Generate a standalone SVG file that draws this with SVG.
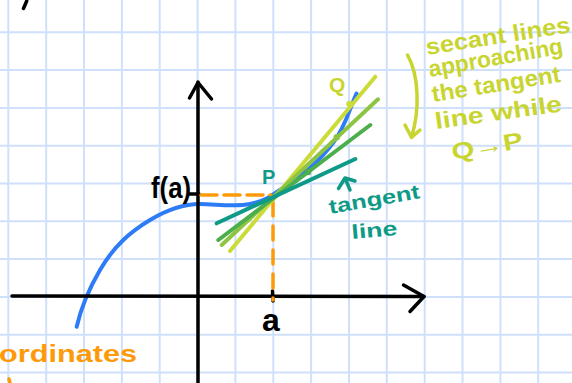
<svg xmlns="http://www.w3.org/2000/svg" width="572" height="383" viewBox="0 0 572 383">
<defs>
<style>
.grid line{stroke:#cfe0fb;stroke-width:2}
.ink{fill:none;stroke-linecap:round;stroke-linejoin:round}
.hand{font-family:"Liberation Sans","DejaVu Sans",sans-serif;font-weight:bold}
</style>
</defs>
<rect width="572" height="383" fill="#ffffff"/>
<g id="grid" class="grid">
<line x1="8.3" y1="0" x2="8.3" y2="383"/><line x1="46.2" y1="0" x2="46.2" y2="383"/><line x1="84" y1="0" x2="84" y2="383"/><line x1="121.9" y1="0" x2="121.9" y2="383"/><line x1="159.7" y1="0" x2="159.7" y2="383"/><line x1="197.6" y1="0" x2="197.6" y2="383"/><line x1="235.4" y1="0" x2="235.4" y2="383"/><line x1="273.3" y1="0" x2="273.3" y2="383"/><line x1="311.1" y1="0" x2="311.1" y2="383"/><line x1="349" y1="0" x2="349" y2="383"/><line x1="386.8" y1="0" x2="386.8" y2="383"/><line x1="424.7" y1="0" x2="424.7" y2="383"/><line x1="462.5" y1="0" x2="462.5" y2="383"/><line x1="500.4" y1="0" x2="500.4" y2="383"/><line x1="538.2" y1="0" x2="538.2" y2="383"/>
<line x1="0" y1="32.3" x2="572" y2="32.3"/><line x1="0" y1="70.1" x2="572" y2="70.1"/><line x1="0" y1="107.9" x2="572" y2="107.9"/><line x1="0" y1="145.7" x2="572" y2="145.7"/><line x1="0" y1="183.5" x2="572" y2="183.5"/><line x1="0" y1="221.3" x2="572" y2="221.3"/><line x1="0" y1="259.1" x2="572" y2="259.1"/><line x1="0" y1="296.9" x2="572" y2="296.9"/><line x1="0" y1="334.7" x2="572" y2="334.7"/><line x1="0" y1="372.5" x2="572" y2="372.5"/>
</g>
<g id="curve">
<path class="ink" stroke="#2d7cf6" stroke-width="4" d="M76.7,326.7 C80,312 86,294 100,270 S130,232 150,220 S185,204 200,204 S235,207 250,204 S270,197 290,183 S320,160 333,143 S350,107 356.5,93.5"/>
</g>
<g id="axes" class="ink" stroke="#000" stroke-width="3.5">
<path d="M198,82 L198,383"/>
<path d="M189.5,98 L198,82.5 L211.5,99"/>
<path d="M12,296 L424,296.5"/>
<path d="M403.5,285 L424,296.5 L410,311.5"/>
<path d="M272.5,291 L273,301"/>
<path d="M189,194 L199,194"/>
<path d="M26.7,1 L23.5,8.5"/>
</g>
<g id="guides" class="ink" stroke="#fd9a0a" stroke-width="3.5" stroke-linecap="butt">
<path d="M201,195 L271,195" stroke-dasharray="16 7"/>
<path d="M273,202 L273,300" stroke-dasharray="14 10"/>
</g>
<g id="connectors" class="ink" stroke-width="4">
<path stroke="#cbdb3a" d="M230,251 L375.3,76.7"/>
<path stroke="#8dc442" d="M221.7,245 L378,99.3"/>
<path stroke="#4dae4c" d="M218.3,240 L370.3,125"/>
<path stroke="#0f9a88" d="M216.7,223.3 L355.3,159"/>
<circle cx="349.5" cy="104" r="3.2" fill="#cbdb3a" stroke="none"/>
<circle cx="336.7" cy="137.3" r="3.2" fill="#8dc442" stroke="none"/>
<circle cx="308" cy="172" r="3.2" fill="#4dae4c" stroke="none"/>
<path stroke="#0f9a88" stroke-width="3.5" d="M338.5,188.5 L345,178 L355,181 M345,178 L350,190"/>
<path stroke="#c8d530" stroke-width="3.5" d="M407.5,55 C419,75 420,110 411.5,137 M405,125 L411.5,137.5 L420,130"/>
</g>
<g id="labels" class="hand">
<text x="151" y="198" font-size="30" fill="#000" textLength="40" lengthAdjust="spacingAndGlyphs">f(a)</text>
<text x="262" y="184" font-size="20" fill="#0f9a88">P</text>
<text x="329" y="92" font-size="21" fill="#c8d530">Q</text>
<text x="262" y="331" font-size="32" fill="#000">a</text>
<text x="-1" y="362" font-size="24" fill="#fd9a0a" textLength="138" lengthAdjust="spacingAndGlyphs">ordinates</text>
<path d="M9,379 L10,383" stroke="#fd9a0a" stroke-width="3.5" stroke-linecap="round"/>
<g fill="#c8d530" font-size="23">
<text x="427" y="55" transform="rotate(-9 427 55)" textLength="146" lengthAdjust="spacingAndGlyphs">secant lines</text>
<text x="430" y="77" transform="rotate(-10 430 77)" textLength="136" lengthAdjust="spacingAndGlyphs">approaching</text>
<text x="433" y="102" transform="rotate(-9 433 102)" textLength="130" lengthAdjust="spacingAndGlyphs">the tangent</text>
<text x="436" y="129" transform="rotate(-8 436 129)" textLength="128" lengthAdjust="spacingAndGlyphs">line while</text>
<text x="453" y="160" transform="rotate(-10 453 160)" textLength="72" lengthAdjust="spacingAndGlyphs">Q→P</text>
</g>
<g fill="#0f9a88" font-size="20">
<text x="330" y="214" transform="rotate(-10 330 214)" textLength="92" lengthAdjust="spacingAndGlyphs">tangent</text>
<text x="352" y="239" transform="rotate(-5 352 239)" textLength="46" lengthAdjust="spacingAndGlyphs">line</text>
</g>
</g>
</svg>
